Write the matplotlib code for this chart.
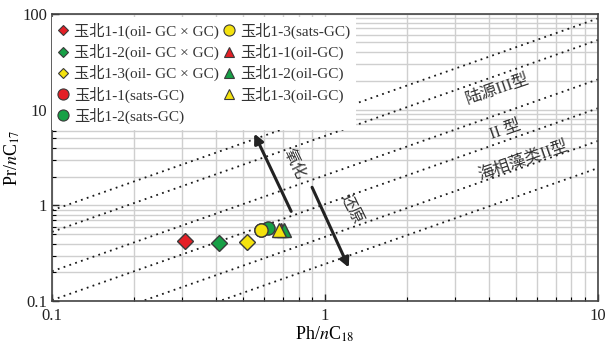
import matplotlib
matplotlib.use("Agg")
import matplotlib.pyplot as plt
from matplotlib.lines import Line2D
import numpy as np

plt.rcParams['font.family'] = ['Liberation Serif', 'Noto Sans CJK SC']
plt.rcParams['mathtext.fontset'] = 'stix'

# samples: label, Ph/nC18, Pr/nC17
labels = ['玉北1-1(oil- GC × GC)', '玉北1-2(oil- GC × GC)', '玉北1-3(oil- GC × GC)',
          '玉北1-1(sats-GC)', '玉北1-2(sats-GC)', '玉北1-3(sats-GC)',
          '玉北1-1(oil-GC)', '玉北1-2(oil-GC)', '玉北1-3(oil-GC)']
ph_nc18 = [0.306, 0.408, 0.516, 0.582, 0.619, 0.584, 0.690, 0.708, 0.681]
pr_nc17 = [0.431, 0.404, 0.418, 0.553, 0.577, 0.553, 0.550, 0.550, 0.550]
colors = ['#e41f26', '#17a046', '#f4e20e'] * 3
markers = ['D'] * 3 + ['o'] * 3 + ['^'] * 3

# ratio lines Pr/nC17 = k * Ph/nC18
line_k = [8.9, 5.3, 2.06, 1.03, 0.47, 0.245]

fig = plt.figure(figsize=(6.07, 3.48), dpi=100)
ax = fig.add_axes([0.0857, 0.134, 0.8993, 0.827])
ax.set_xscale('log')
ax.set_yscale('log')
ax.set_xlim(0.1, 10)
ax.set_ylim(0.1, 100)

ax.grid(True, which='both', color='#cfcfcf', lw=1.0)
ax.set_axisbelow(True)

xs = np.array([0.1, 10])
for k in line_k:
    ax.plot(xs, k * xs, color='#1a1a1a', lw=1.3, ls=(0, (1.0, 2.4)), zorder=2)

sizes = {'D': 8, 'o': 9.5, '^': 9.5}
for lab, x, y, c, m in zip(labels, ph_nc18, pr_nc17, colors, markers):
    ax.plot(x, y, marker=m, color=c, mec='#3a3a3a', mew=1.0, ms=sizes[m],
            ls='none', zorder=3)

# type fields
ax.text(4.3, 16.0, '陆源III型', rotation=19, fontsize=12, color='#333333',
        ha='center', va='center')
ax.text(4.6, 6.1, 'II 型', rotation=19, fontsize=12, color='#333333',
        ha='center', va='center')
ax.text(5.3, 2.9, '海相藻类II型', rotation=19, fontsize=12, color='#333333',
        ha='center', va='center')

# oxidation / reduction arrows
ax.annotate('', xy=(0.551, 5.6), xytext=(0.752, 0.867),
            arrowprops=dict(arrowstyle='-|>', color='#222222', lw=2.2,
                            mutation_scale=14, shrinkA=0, shrinkB=0))
ax.annotate('', xy=(1.223, 0.225), xytext=(0.897, 1.546),
            arrowprops=dict(arrowstyle='-|>', color='#222222', lw=2.2,
                            mutation_scale=14, shrinkA=0, shrinkB=0))
ax.text(0.77, 2.69, '氧化', rotation=-64, fontsize=11.5, color='#333333',
        ha='center', va='center')
ax.text(1.245, 0.91, '还原', rotation=-64, fontsize=11.5, color='#333333',
        ha='center', va='center')

ax.set_xticks([0.1, 1, 10])
ax.set_xticklabels(['0.1', '1', '10'])
ax.set_yticks([0.1, 1, 10, 100])
ax.set_yticklabels(['0.1', '1', '10', '100'])
ax.tick_params(which='major', direction='in', length=5, width=1, labelsize=12,
               colors='#222222')
ax.tick_params(axis='x', which='major', pad=5)
ax.tick_params(which='minor', direction='in', length=3, width=0.8)
for s in ax.spines.values():
    s.set_color('#444444')
    s.set_linewidth(1.2)

ax.set_xlabel(r'Ph/$n$C$_{18}$', fontsize=13, labelpad=0)
ax.set_ylabel(r'Pr/$n$C$_{17}$', fontsize=13)
ax.yaxis.set_label_coords(-0.055, 0.5)

leg_sizes = {'D': 5, 'o': 8, '^': 7}
handles = [Line2D([], [], marker=m, color=c, mec='#3a3a3a', mew=0.8,
                  ms=leg_sizes[m], ls='none')
           for c, m in zip(colors, markers)]
leg = ax.legend(handles, labels,
                ncol=2, loc='upper left', bbox_to_anchor=(-0.005, 1.0),
                fontsize=11, frameon=True, fancybox=False, edgecolor='none',
                facecolor='white', framealpha=1, handlelength=0.6,
                handletextpad=0.4, labelspacing=0.33, columnspacing=0.4,
                borderpad=0.4, borderaxespad=0.2)
for t in leg.get_texts():
    t.set_color('#333333')

fig.savefig('out.png', dpi=100)
